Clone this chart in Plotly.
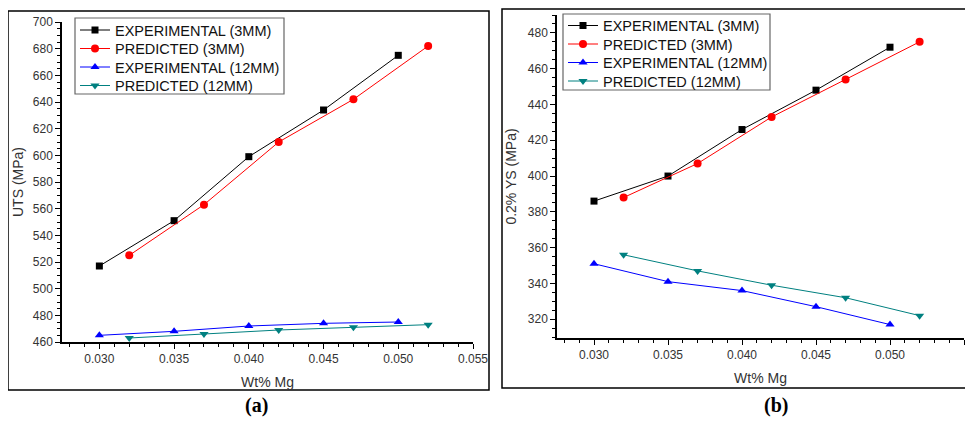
import plotly.graph_objects as go

# ---- data ----
x_exp = [0.030, 0.035, 0.040, 0.045, 0.050]
x_pred = [0.032, 0.037, 0.042, 0.047, 0.052]

uts_exp_3mm = [517, 551, 599, 634, 675]
uts_pred_3mm = [525, 563, 610, 642, 682]
uts_exp_12mm = [465, 468, 472, 474, 475]
uts_pred_12mm = [463, 466, 469, 471, 473]

ys_exp_3mm = [386, 400, 426, 448, 472]
ys_pred_3mm = [388, 407, 433, 454, 475]
ys_exp_12mm = [351, 341, 336, 327, 317]
ys_pred_12mm = [356, 347, 339, 332, 322]

names = ["EXPERIMENTAL (3MM)", "PREDICTED (3MM)", "EXPERIMENTAL (12MM)", "PREDICTED (12MM)"]
colors = ["#000000", "#ff0000", "#0000ff", "#008080"]
symbols = ["square", "circle", "triangle-up", "triangle-down"]
msizes = [7, 8, 8, 8]

# page has an 8px body margin; figure sized to fit inside the window
OFF = 8
W, H = 957, 410
def px(x):
    return (x - OFF) / W
def py(y):
    return 1 - (y - OFF) / H

fig = go.Figure()

panels = [
    ("x", "y", [x_exp, x_pred, x_exp, x_pred],
     [uts_exp_3mm, uts_pred_3mm, uts_exp_12mm, uts_pred_12mm]),
    ("x2", "y2", [x_exp, x_pred, x_exp, x_pred],
     [ys_exp_3mm, ys_pred_3mm, ys_exp_12mm, ys_pred_12mm]),
]
for p, (xa, ya, xs, ys) in enumerate(panels):
    for i in range(4):
        n = p * 4 + i + 1
        fig.add_trace(go.Scatter(
            x=xs[i], y=ys[i], mode="lines+markers", name=names[i],
            xaxis=xa, yaxis=ya, legend="legend" if n == 1 else f"legend{n}",
            showlegend=True,
            line=dict(color=colors[i], width=1),
            marker=dict(symbol=symbols[i], size=msizes[i], color=colors[i]),
        ))

font = "Liberation Sans, Arial, sans-serif"
axis_common = dict(
    showline=True, linecolor="black", linewidth=1.5,
    ticks="outside", ticklen=5, tickwidth=1.2, tickcolor="black",
    showgrid=False, zeroline=False, automargin=False,
    tickfont=dict(family=font, size=12, color="#333333"),
    minor=dict(ticks="outside", ticklen=3, tickwidth=1, tickcolor="black"),
)
title_font = dict(size=14, family=font, color="#333333")
LEG_FS = 14.5
legend_common = dict(xanchor="left", yanchor="top", borderwidth=0,
                     bgcolor="rgba(255,255,255,0)",
                     font=dict(family=font, size=LEG_FS, color="#111111"),
                     tracegroupgap=0, itemwidth=30, visible=True)
label_font = dict(family="Liberation Serif, Times New Roman, serif", size=20, color="black")

# legend entry rows (vertical centre of each entry, in page pixels)
rows_a = [30, 48.5, 67, 85.5]
rows_b = [25.5, 44, 62.5, 81]
item_off = (LEG_FS * 1.3 + 3) / 2 + 5

legends = {}
for k, yc in enumerate(rows_a + rows_b):
    key = "legend" if k == 0 else f"legend{k + 1}"
    xl = 75 if k < 4 else 563
    legends[key] = dict(x=px(xl), y=py(yc - item_off), **legend_common)

fig.update_layout(
    width=W, height=H,
    showlegend=True,
    margin=dict(l=0, r=0, t=0, b=0),
    paper_bgcolor="white", plot_bgcolor="white",
    font=dict(family=font, color="#222222"),
    xaxis=dict(domain=[px(62), px(473)], range=[0.0275, 0.055],
               dtick=0.005, tick0=0, tickformat=".3f", anchor="y",
               title=dict(text="Wt% Mg", font=title_font, standoff=12),
               **axis_common),
    yaxis=dict(domain=[py(342), py(22)], range=[460, 700], dtick=20,
               anchor="x",
               title=dict(text="UTS (MPa)", font=title_font, standoff=6),
               **axis_common),
    xaxis2=dict(domain=[px(557), px(964)], range=[0.0275, 0.055],
                dtick=0.005, tick0=0, tickformat=".3f", anchor="y2",
                title=dict(text="Wt% Mg", font=title_font, standoff=12),
                **axis_common),
    yaxis2=dict(domain=[py(338), py(15)], range=[309.5, 490], dtick=20,
                anchor="x2",
                title=dict(text="0.2% YS (MPa)", font=title_font, standoff=8),
                **axis_common),
    shapes=[
        # panel frames
        dict(type="rect", xref="paper", yref="paper",
             x0=px(8), x1=px(489), y0=py(390), y1=py(11),
             line=dict(color="black", width=1.5)),
        dict(type="rect", xref="paper", yref="paper",
             x0=px(502), x1=px(990), y0=py(388), y1=py(9),
             line=dict(color="black", width=1.5)),
        # legend boxes
        dict(type="rect", xref="paper", yref="paper",
             x0=px(75), x1=px(284), y0=py(94), y1=py(18),
             line=dict(color="#666666", width=1.2)),
        dict(type="rect", xref="paper", yref="paper",
             x0=px(563), x1=px(770), y0=py(90), y1=py(14),
             line=dict(color="#666666", width=1.2)),
    ],
    annotations=[
        dict(text="<b>(a)</b>", x=px(256), y=py(405), xref="paper", yref="paper",
             xanchor="center", yanchor="middle", showarrow=False, font=label_font),
        dict(text="<b>(b)</b>", x=px(776), y=py(405), xref="paper", yref="paper",
             xanchor="center", yanchor="middle", showarrow=False, font=label_font),
    ],
    **legends,
)

fig.write_html("out.html")
